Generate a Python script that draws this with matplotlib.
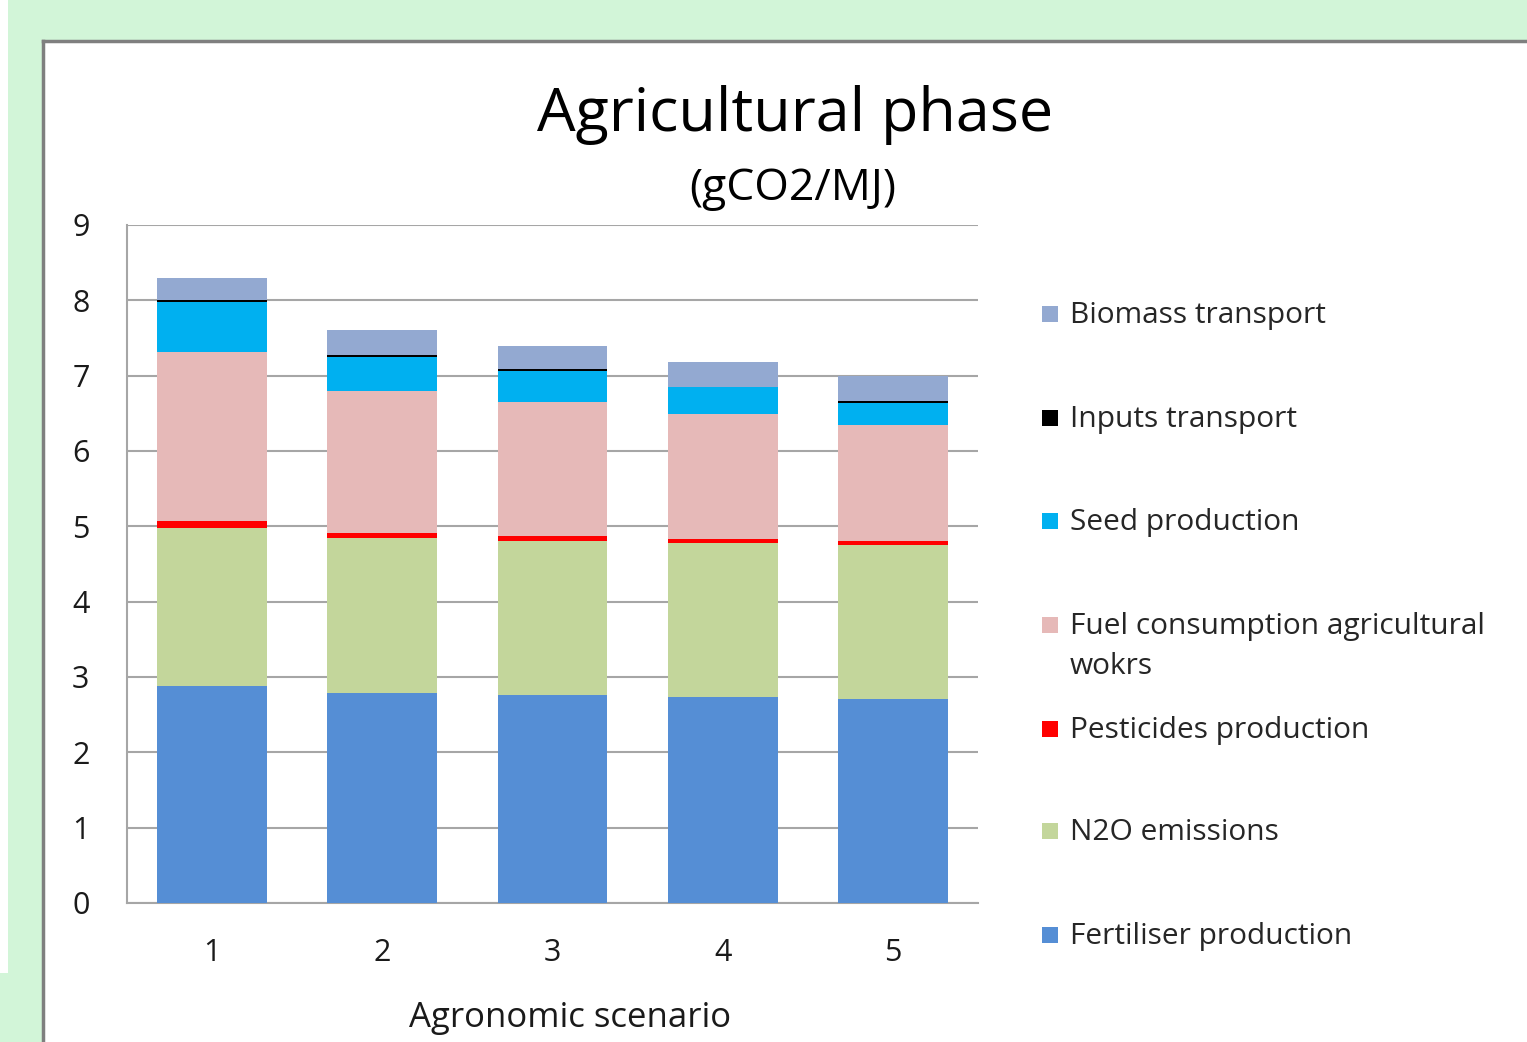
import matplotlib.pyplot as plt
import numpy as np
from matplotlib.patches import Rectangle
from matplotlib.lines import Line2D

plt.rcParams['font.family'] = ['Open Sans', 'DejaVu Sans']

scenarios = ['1', '2', '3', '4', '5']

# gCO2/MJ per emission source, bottom to top of each stack
fertiliser = [2.88, 2.79, 2.76, 2.73, 2.71]
n2o = [2.10, 2.06, 2.05, 2.05, 2.04]
pesticides = [0.09, 0.06, 0.06, 0.05, 0.06]
fuel = [2.24, 1.89, 1.78, 1.66, 1.54]
seed = [0.67, 0.45, 0.41, 0.36, 0.29]
inputs_tr = [0.02, 0.02, 0.03, 0.005, 0.02]
biomass_tr = [0.30, 0.34, 0.30, 0.33, 0.34]

series = [
    ('Fertiliser production', fertiliser, '#558ed5'),
    ('N2O emissions', n2o, '#c3d69b'),
    ('Pesticides production', pesticides, '#ff0000'),
    ('Fuel consumption agricultural\nwokrs', fuel, '#e6b9b8'),
    ('Seed production', seed, '#00b0f0'),
    ('Inputs transport', inputs_tr, '#000000'),
    ('Biomass transport', biomass_tr, '#93a9d1'),
]

W, H = 1527, 1042
fig = plt.figure(figsize=(W / 100, H / 100), dpi=100)
fig.patch.set_facecolor('#d2f5d8')

# white slide panel with grey frame
fig.add_artist(Rectangle((0, (H - 973) / H), 8 / W, 973 / H, transform=fig.transFigure,
                         facecolor='white', edgecolor='none', zorder=-2))
fig.add_artist(Rectangle((43 / W, 0), 1, (H - 41) / H, transform=fig.transFigure,
                         facecolor='white', edgecolor='none', zorder=-1))
fig.add_artist(Line2D([43 / W, 43 / W], [0, (H - 41) / H], transform=fig.transFigure,
                      color='#7f7f7f', lw=2.5))
fig.add_artist(Line2D([43 / W, 1], [(H - 41) / H, (H - 41) / H], transform=fig.transFigure,
                      color='#7f7f7f', lw=2.5))

ax = fig.add_axes([127 / W, (H - 903) / H, 851 / W, 678 / H])
ax.set_facecolor('none')

x = np.arange(1, len(scenarios) + 1)
bottom = np.zeros(len(scenarios))
for name, vals, col in series:
    ax.bar(x, vals, width=0.646, bottom=bottom, color=col, zorder=3)
    bottom += np.array(vals)

ax.set_xlim(0.5, 5.5)
ax.set_ylim(0, 9)
ax.set_yticks(range(10))
ax.set_xticks(x)
ax.set_xticklabels(scenarios)
ax.yaxis.grid(True, color='#a6a6a6', lw=1.5, zorder=0)
ax.tick_params(length=0, labelsize=22, colors='#1a1a1a')
ax.tick_params(axis='y', pad=27)
ax.tick_params(axis='x', pad=25)
for s in ['top', 'right']:
    ax.spines[s].set_visible(False)
for s in ['left', 'bottom']:
    ax.spines[s].set_color('#a6a6a6')
    ax.spines[s].set_linewidth(1.5)

fig.text(795 / W, 1 - 115 / H, 'Agricultural phase', ha='center', va='center',
         fontsize=44, color='black')
fig.text(793 / W, 1 - 189 / H, '(gCO2/MJ)', ha='center', va='center',
         fontsize=32, color='black')
fig.text(570 / W, 1 - 1018 / H, 'Agronomic scenario', ha='center', va='center',
         fontsize=25, color='#1a1a1a')

# legend, top entry first
leg_y = [314, 418, 521, 625, 729, 831, 935]
for (name, vals, col), yy in zip(series[::-1], leg_y):
    fig.add_artist(Rectangle((1042 / W, 1 - (yy + 8) / H), 16 / W, 16 / H,
                             transform=fig.transFigure, facecolor=col, edgecolor='none'))
    fig.text(1070 / W, 1 - (yy - 13) / H, name, ha='left', va='top',
             fontsize=21.5, color='#262626', linespacing=1.5)

fig.savefig('out.png', dpi=100, facecolor=fig.get_facecolor())
